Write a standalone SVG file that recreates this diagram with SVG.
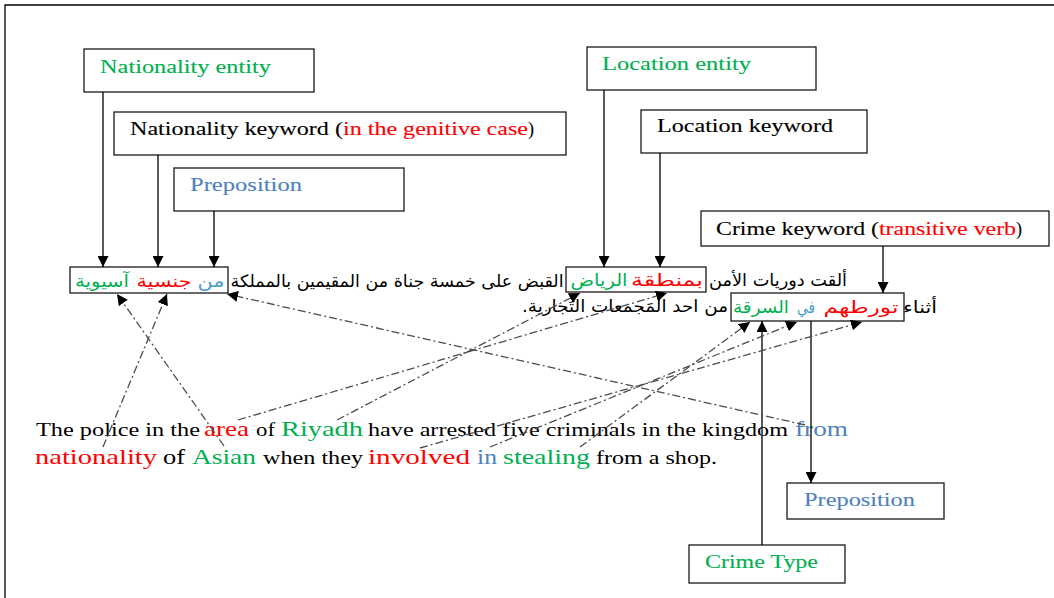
<svg xmlns="http://www.w3.org/2000/svg" width="1054" height="598" viewBox="0 0 1054 598">
  <style>
    .box { fill: #ffffff; stroke: #1a1a1a; stroke-width: 1.3; }
    .lbl { font-family: "Liberation Serif", "Times New Roman", serif; font-size: 18px; stroke-width: 0.1; }
    .en { font-family: "Liberation Serif", "Times New Roman", serif; }
    .ar { font-family: "DejaVu Sans", sans-serif; font-size: 17px; }
    .solid { stroke: #000; stroke-width: 1.3; fill: none; marker-end: url(#headSolid); }
    .dash { stroke: #4d4d4d; stroke-width: 1.3; fill: none; stroke-dasharray: 8 3 2 3; marker-end: url(#headDash); }
    .k { fill: #000; }
    .g { fill: #00b050; }
    .r { fill: #ff0000; }
    .b { fill: #4f81bd; }
    .ba { fill: #4a9cc8; }
    .lbl.k { stroke: #000; }
    .lbl.g { stroke: #00b050; }
    .lbl.r { stroke: #ff0000; }
    .lbl.b { stroke: #4f81bd; }
  </style>
  <defs>
    <marker id="headSolid" viewBox="0 0 10 10" refX="10" refY="5" markerWidth="11" markerHeight="11" markerUnits="userSpaceOnUse" orient="auto">
      <path d="M0,0 L10,5 L0,10 z" fill="#000"/>
    </marker>
    <marker id="headDash" viewBox="0 0 10 10" refX="10" refY="5" markerWidth="11" markerHeight="11" markerUnits="userSpaceOnUse" orient="auto">
      <path d="M0,0 L10,5 L0,10 z" fill="#000"/>
    </marker>
  </defs>

  <rect width="1054" height="598" fill="#ffffff"/>
  <!-- page frame -->
  <path d="M5,598 V5 H1054" fill="none" stroke="#000" stroke-width="1.3"/>

  <!-- label boxes -->
  <g id="nationality-entity">
    <rect class="box" x="84" y="49" width="230" height="43"/>
    <text class="lbl g" x="100" y="73" textLength="171" lengthAdjust="spacingAndGlyphs">Nationality entity</text>
  </g>
  <g id="nationality-keyword">
    <rect class="box" x="114" y="112" width="452" height="43"/>
    <text class="lbl k" x="130" y="135" textLength="213" lengthAdjust="spacingAndGlyphs">Nationality keyword (</text>
    <text class="lbl r" x="343" y="135" textLength="185" lengthAdjust="spacingAndGlyphs">in the genitive case</text>
    <text class="lbl k" x="528" y="135">)</text>
  </g>
  <g id="preposition-top">
    <rect class="box" x="174" y="168" width="230" height="43"/>
    <text class="lbl b" x="190" y="191" textLength="112" lengthAdjust="spacingAndGlyphs">Preposition</text>
  </g>
  <g id="location-entity">
    <rect class="box" x="587" y="47" width="229" height="43"/>
    <text class="lbl g" x="602" y="70" textLength="149" lengthAdjust="spacingAndGlyphs">Location entity</text>
  </g>
  <g id="location-keyword">
    <rect class="box" x="641" y="110" width="226" height="43"/>
    <text class="lbl k" x="657" y="132" textLength="176" lengthAdjust="spacingAndGlyphs">Location keyword</text>
  </g>
  <g id="crime-keyword">
    <rect class="box" x="701" y="211" width="348" height="35"/>
    <text class="lbl k" x="716" y="235" textLength="163" lengthAdjust="spacingAndGlyphs">Crime keyword (</text>
    <text class="lbl r" x="879" y="235" textLength="137" lengthAdjust="spacingAndGlyphs">transitive verb</text>
    <text class="lbl k" x="1016" y="235">)</text>
  </g>
  <g id="preposition-bottom">
    <rect class="box" x="787" y="483" width="157" height="36"/>
    <text class="lbl b" x="804" y="506" textLength="111" lengthAdjust="spacingAndGlyphs">Preposition</text>
  </g>
  <g id="crime-type">
    <rect class="box" x="689" y="545" width="156" height="38"/>
    <text class="lbl g" x="705" y="568" textLength="113" lengthAdjust="spacingAndGlyphs">Crime Type</text>
  </g>

  <!-- Arabic sentence -->
  <g id="arabic-sentence">
    <rect class="box" x="70" y="267" width="158" height="26"/>
    <text class="ar g" direction="rtl" text-anchor="middle" x="102" y="287" textLength="54" lengthAdjust="spacingAndGlyphs">آسيوية</text>
    <text class="ar r" direction="rtl" text-anchor="middle" x="164" y="287" textLength="55" lengthAdjust="spacingAndGlyphs">جنسية</text>
    <text class="ar ba" direction="rtl" text-anchor="middle" x="211" y="287" textLength="27" lengthAdjust="spacingAndGlyphs">من</text>
    <text class="ar k" direction="rtl" text-anchor="middle" x="397" y="287" textLength="333" lengthAdjust="spacingAndGlyphs">القبض على خمسة جناة من المقيمين بالمملكة</text>

    <rect class="box" x="566" y="267" width="140" height="25"/>
    <text class="ar g" direction="rtl" text-anchor="middle" x="599" y="286" textLength="57" lengthAdjust="spacingAndGlyphs">الرياض</text>
    <text class="ar r" direction="rtl" text-anchor="middle" x="667" y="286" textLength="72" lengthAdjust="spacingAndGlyphs">بمنطقة</text>
    <text class="ar k" direction="rtl" text-anchor="middle" x="778" y="286" textLength="138" lengthAdjust="spacingAndGlyphs">ألقت دوريات الأمن</text>

    <rect class="box" x="731" y="293" width="173" height="28"/>
    <text class="ar g" direction="rtl" text-anchor="middle" x="761" y="313" textLength="56" lengthAdjust="spacingAndGlyphs">السرقة</text>
    <text class="ar ba" direction="rtl" text-anchor="middle" x="806" y="313" textLength="18" lengthAdjust="spacingAndGlyphs">في</text>
    <text class="ar r" direction="rtl" text-anchor="middle" x="861" y="313" textLength="75" lengthAdjust="spacingAndGlyphs">تورطهم</text>
    <text class="ar k" direction="rtl" text-anchor="middle" x="920" y="313" textLength="34" lengthAdjust="spacingAndGlyphs">أثناء</text>
    <text class="ar k" direction="rtl" text-anchor="middle" x="625" y="312" textLength="206" lengthAdjust="spacingAndGlyphs">من احد المَجمعات التَجارية.</text>
  </g>

  <!-- English sentence -->
  <g id="english-sentence" class="en">
    <text class="k" x="36" y="436" font-size="19" textLength="164" lengthAdjust="spacingAndGlyphs">The police in the</text>
    <text class="r" x="204" y="436" font-size="22" textLength="45" lengthAdjust="spacingAndGlyphs">area</text>
    <text class="k" x="256" y="436" font-size="19" textLength="19" lengthAdjust="spacingAndGlyphs">of</text>
    <text class="g" x="281" y="436" font-size="22" textLength="82" lengthAdjust="spacingAndGlyphs">Riyadh</text>
    <text class="k" x="368" y="436" font-size="19" textLength="420" lengthAdjust="spacingAndGlyphs">have arrested five criminals in the kingdom</text>
    <text class="b" x="795" y="436" font-size="22" textLength="53" lengthAdjust="spacingAndGlyphs">from</text>

    <text class="r" x="35" y="464" font-size="22" textLength="122" lengthAdjust="spacingAndGlyphs">nationality</text>
    <text class="k" x="163" y="464" font-size="22" textLength="22" lengthAdjust="spacingAndGlyphs">of</text>
    <text class="g" x="192" y="464" font-size="22" textLength="64" lengthAdjust="spacingAndGlyphs">Asian</text>
    <text class="k" x="263" y="464" font-size="19" textLength="100" lengthAdjust="spacingAndGlyphs">when they</text>
    <text class="r" x="368" y="464" font-size="22" textLength="102" lengthAdjust="spacingAndGlyphs">involved</text>
    <text class="b" x="477" y="464" font-size="22" textLength="20" lengthAdjust="spacingAndGlyphs">in</text>
    <text class="g" x="503" y="464" font-size="22" textLength="87" lengthAdjust="spacingAndGlyphs">stealing</text>
    <text class="k" x="596" y="464" font-size="19" textLength="121" lengthAdjust="spacingAndGlyphs">from a shop.</text>
  </g>

  <!-- connectors -->
  <g id="connectors">
    <line class="solid" x1="103" y1="92" x2="103" y2="267"/>
    <line class="solid" x1="158" y1="155" x2="158" y2="267"/>
    <line class="solid" x1="214" y1="211" x2="214" y2="267"/>
    <line class="solid" x1="604" y1="90" x2="604" y2="267"/>
    <line class="solid" x1="660" y1="153" x2="660" y2="267"/>
    <line class="solid" x1="883" y1="246" x2="883" y2="293"/>
    <line class="solid" x1="811" y1="321" x2="811" y2="483"/>
    <line class="solid" x1="762" y1="545" x2="762" y2="321"/>

    <line class="dash" x1="103" y1="447" x2="167" y2="294"/>
    <line class="dash" x1="224" y1="446" x2="117" y2="294"/>
    <line class="dash" x1="805" y1="425" x2="227" y2="294"/>
    <line class="dash" x1="238" y1="420" x2="667" y2="293"/>
    <line class="dash" x1="337" y1="420" x2="580" y2="293"/>
    <line class="dash" x1="420" y1="448" x2="862" y2="322"/>
    <line class="dash" x1="490" y1="447" x2="797" y2="322"/>
    <line class="dash" x1="580" y1="447" x2="750" y2="322"/>
  </g>
</svg>
